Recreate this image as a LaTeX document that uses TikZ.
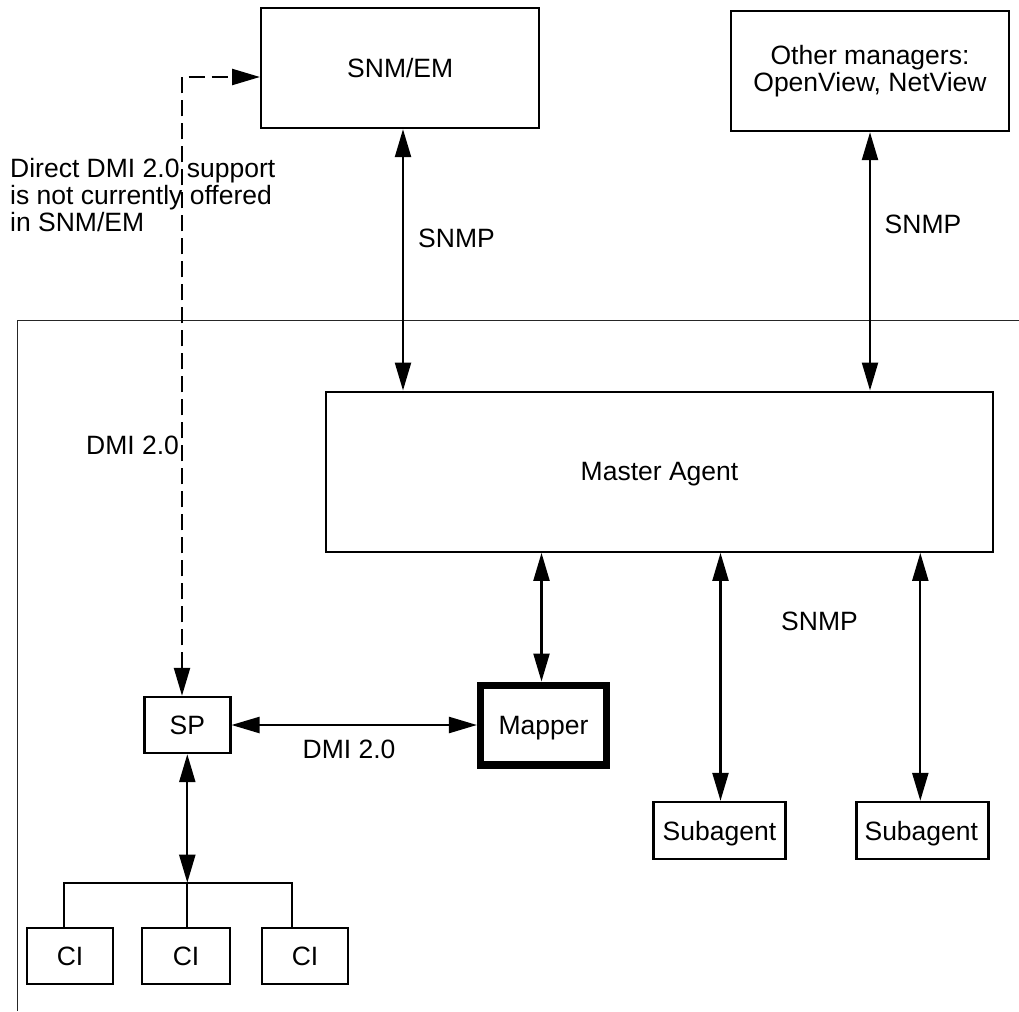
\documentclass[tikz,border=0pt]{standalone}
\usepackage{fontspec}
\setmainfont{Liberation Sans}
\usetikzlibrary{arrows.meta}
\tikzset{
 box/.style={draw=black,line width=2.4pt,inner sep=0pt,align=center,font=\fontsize{26.5}{26.7}\selectfont},
 lab/.style={inner sep=0pt,align=left,font=\fontsize{26.5}{27}\selectfont},
 dbl/.style={line width=2.3pt,{Triangle[length=28pt,width=16pt]}-{Triangle[length=28pt,width=16pt]}},
 sgl/.style={line width=2.3pt},
 dsh/.style={line width=2.3pt,dash pattern=on 16pt off 7pt,{Triangle[length=28pt,width=16pt]}-{Triangle[length=28pt,width=16pt]}}
}
\begin{document}
\begin{tikzpicture}[x=1pt,y=-1pt]
\useasboundingbox (0,0) rectangle (1019,1011);
\node[box,minimum width=278pt,minimum height=120pt] (snm) at (400.2,68) {SNM/EM};
\node[box,minimum width=277.5pt,minimum height=120pt] (other) at (870,71) {Other managers:\\OpenView, NetView};
\node[box,text depth=0pt,minimum width=667pt,minimum height=160pt] (master) at (659.5,471.7) {Master Agent};
\node[box,minimum width=86pt,minimum height=56pt] (sp) at (187.3,725) {SP};
\node[box,text depth=0pt,line width=7.5pt,minimum width=125.6pt,minimum height=79.5pt] (mapper) at (543.5,725) {Mapper};
\node[box,text depth=0pt,minimum width=132pt,minimum height=57pt] (sub1) at (719.4,830.5) {Subagent};
\node[box,text depth=0pt,minimum width=132pt,minimum height=57pt] (sub2) at (922.3,830.5) {\hspace{-2pt}Subagent};
\node[box,minimum width=86pt,minimum height=56pt] (ci1) at (70,956) {CI};
\node[box,minimum width=88pt,minimum height=56pt] (ci2) at (186,956) {CI};
\node[box,minimum width=86pt,minimum height=56pt] (ci3) at (305,956) {CI};
% enclosure
\coordinate (e1) at (1019,320);\coordinate (e2) at (17.5,320);\coordinate (e3) at (17.5,1011);
\draw[line width=.9pt,black!85] (e1)--(e2)--(e3);
% arrows
\draw[dbl] (snm.south -| 403,0)--(master.north -| 403,0);
\draw[dbl] (other.south -| 870,0)--(master.north -| 870,0);
\draw[dbl] (master.south -| 541.5,0)--(mapper.north -| 541.5,0);
\draw[dbl] (master.south -| 720.5,0)--(sub1.north -| 720.5,0);
\draw[dbl] (master.south -| 920.3,0)--(sub2.north -| 920.3,0);
\draw[dbl] (sp.east)--(mapper.west);
\coordinate (bus) at (187.3,882.7);
\coordinate (busl) at (64.3,882.7);\coordinate (busr) at (291.7,882.7);
\draw[dbl] (sp.south -| bus)--(bus);
\draw[sgl,line join=miter] (ci1.north -| busl)--(busl)--(busr)--(ci3.north -| busr);
\draw[sgl] (bus)--(ci2.north -| bus);
% dashed
\coordinate (dc) at (182,77);
\draw[dsh] (sp.north -| dc)--(dc)--(snm.west |- dc);
% labels
\node[lab,anchor=west] (l1) at (10,195) {Direct DMI 2.0 support\\is not currently offered\\in SNM/EM};
\node[lab,anchor=west] (l2) at (418,238) {SNMP};
\node[lab,anchor=west] (l3) at (884.5,224) {SNMP};
\node[lab,anchor=west] (l4) at (86,445) {DMI 2.0};
\node[lab,anchor=west] (l5) at (781,621.5) {SNMP};
\node[lab,anchor=west] (l6) at (302.5,749.3) {DMI 2.0};
\end{tikzpicture}
\end{document}
